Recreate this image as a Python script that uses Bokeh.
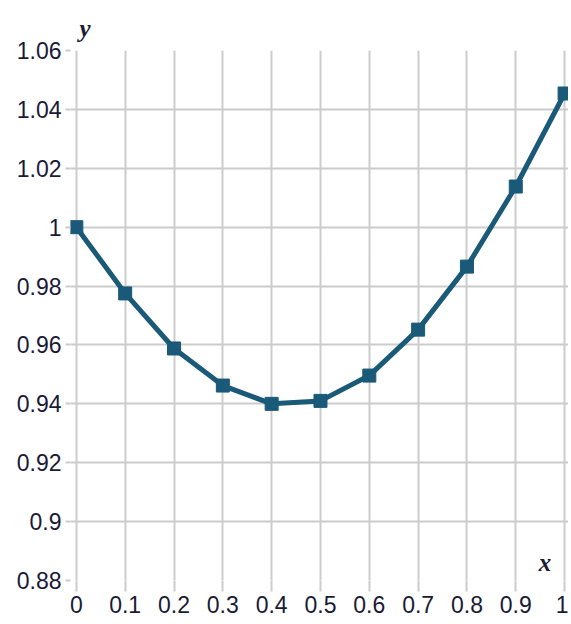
from bokeh.plotting import figure
from bokeh.models import Range1d, FixedTicker, Label
from bokeh.embed import file_html
from bokeh.resources import INLINE

x_vals = [0.0, 0.1, 0.2, 0.3, 0.4, 0.5, 0.6, 0.7, 0.8, 0.9, 1.0]
y_vals = [1.000, 0.9775, 0.9588, 0.9462, 0.9400, 0.9410, 0.9496, 0.9652, 0.9866, 1.0138, 1.0454]
x_ticks = [0.0, 0.1, 0.2, 0.3, 0.4, 0.5, 0.6, 0.7, 0.8, 0.9, 1.0]
y_ticks = [0.88, 0.90, 0.92, 0.94, 0.96, 0.98, 1.00, 1.02, 1.04, 1.06]
x_tick_labels = {0.0: "0", 0.1: "0.1", 0.2: "0.2", 0.3: "0.3", 0.4: "0.4", 0.5: "0.5",
                 0.6: "0.6", 0.7: "0.7", 0.8: "0.8", 0.9: "0.9", 1.0: "1"}
y_tick_labels = {0.88: "0.88", 0.90: "0.9", 0.92: "0.92", 0.94: "0.94", 0.96: "0.96",
                 0.98: "0.98", 1.00: "1", 1.02: "1.02", 1.04: "1.04", 1.06: "1.06"}

LINE = "#1a5a78"
GRID = "#cccccc"
TXT = "#1a1a36"

p = figure(width=568, height=616, output_backend="svg", toolbar_location=None,
           x_range=Range1d(-0.012, 1.008), y_range=Range1d(0.88, 1.06),
           min_border_left=70, min_border_right=0, min_border_top=50, min_border_bottom=36)
p.outline_line_color = None
p.background_fill_color = "white"

p.title.text = "y"
p.title.align = "left"
p.title.offset = 9
p.title.text_font = "Liberation Serif"
p.title.text_font_style = "bold italic"
p.title.text_font_size = "25px"
p.title.text_color = TXT
p.title.standoff = 14
p.title.vertical_align = "top"
p.title.text_line_height = 0.8

for ax in (p.xaxis[0], p.yaxis[0]):
    ax.axis_line_color = None
    ax.major_tick_line_color = GRID
    ax.major_tick_line_width = 2
    ax.major_tick_in = 0
    ax.minor_tick_line_color = None
    ax.major_label_text_font = "Liberation Sans"
    ax.major_label_text_font_size = "23px"
    ax.major_label_text_color = TXT

p.xaxis[0].ticker = FixedTicker(ticks=x_ticks)
p.xaxis[0].major_label_overrides = x_tick_labels
p.xaxis[0].major_tick_out = 11
p.xaxis[0].major_label_standoff = 4
p.yaxis[0].ticker = FixedTicker(ticks=y_ticks)
p.yaxis[0].major_label_overrides = y_tick_labels
p.yaxis[0].major_tick_out = 5
p.yaxis[0].major_label_standoff = 4

p.xgrid.grid_line_color = GRID
p.xgrid.grid_line_width = 2
p.ygrid.grid_line_color = GRID
p.ygrid.grid_line_width = 2

p.line(x_vals, y_vals, line_color=LINE, line_width=5)
p.scatter(x_vals, y_vals, marker="square", size=13, fill_color=LINE, line_color=LINE)

p.add_layout(Label(x=0.96, y=0.8862, text="x", text_font="Liberation Serif",
                   text_font_style="bold italic", text_font_size="25px",
                   text_color=TXT, text_align="center", text_baseline="middle"))

open("out.html", "w").write(file_html(p, INLINE))
